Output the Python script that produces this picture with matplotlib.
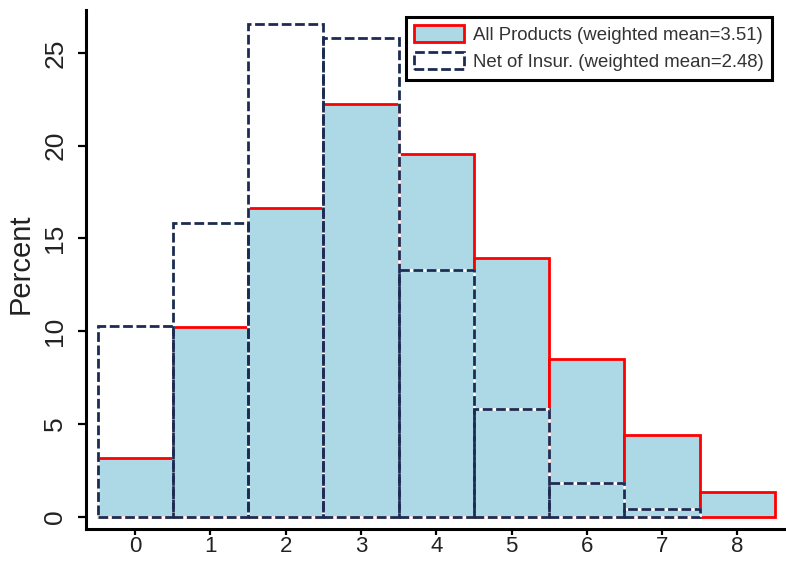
import matplotlib
matplotlib.use("Agg")
import matplotlib.pyplot as plt
from matplotlib.patches import Patch
import numpy as np

plt.rcParams['font.family'] = ['Liberation Sans', 'DejaVu Sans']

# number of products held, percent of households
bins = [0, 1, 2, 3, 4, 5, 6, 7, 8]
all_products = [3.15, 10.2, 16.65, 22.25, 19.55, 13.95, 8.5, 4.4, 1.35]
net_of_insur = [10.3, 15.85, 26.55, 25.8, 13.3, 5.8, 1.8, 0.4, 0.0]
labels = ['All Products (weighted mean=3.51)', 'Net of Insur. (weighted mean=2.48)']
yticks = [0, 5, 10, 15, 20, 25]

navy = '#1c2b52'
dash = (0, (3.5, 1.3))

fig = plt.figure(figsize=(7.86, 5.63), dpi=100)
ax = fig.add_axes([0.1094, 0.061, 0.8906, 0.9212])

ax.bar(bins, all_products, width=1.0, color='#add8e6', edgecolor='red',
       linewidth=2, zorder=2)

# only draw the bins that actually have a bar
net_bins = [b for b, v in zip(bins, net_of_insur) if v > 0]
net_vals = [v for v in net_of_insur if v > 0]
# white underlay so the gaps in the dashes read as white
ax.bar(net_bins, net_vals, width=1.0, fill=False, edgecolor='white',
       linewidth=2, zorder=3)
ax.bar(net_bins, net_vals, width=1.0, fill=False, edgecolor=navy,
       linewidth=2, linestyle=dash, zorder=4)

ax.set_xlim(-0.653, 8.646)
ax.set_ylim(-0.644, 27.31)
ax.set_xticks(bins)
ax.set_yticks(yticks)

for s in ['top', 'right']:
    ax.spines[s].set_visible(False)
for s in ['left', 'bottom']:
    ax.spines[s].set_linewidth(2.2)
    ax.spines[s].set_color('black')

ax.tick_params(axis='both', direction='out', width=1.6, color='black',
               labelcolor='#222222')
ax.tick_params(axis='x', length=4.5, pad=0.5, labelsize=16)
ax.tick_params(axis='y', length=5.5, labelsize=19, labelrotation=90, pad=8)
for t in ax.get_yticklabels():
    t.set_va('center')

ax.set_ylabel('Percent', fontsize=21, color='#222222')
ax.yaxis.set_label_coords(-0.073, 0.51)

handles = [
    Patch(facecolor='#add8e6', edgecolor='red', linewidth=2),
    Patch(facecolor='white', edgecolor=navy, linewidth=2, linestyle=dash),
]
leg = ax.legend(handles, labels, loc='upper left',
                bbox_to_anchor=(406 / 786, 1 - 17 / 563),
                bbox_transform=fig.transFigure, borderaxespad=0,
                fontsize=13.4, handlelength=2.65, handleheight=1.0,
                handletextpad=0.5, labelspacing=0.45, borderpad=0.45,
                fancybox=False, framealpha=1, edgecolor='black')
leg.get_frame().set_linewidth(2.2)
for t in leg.get_texts():
    t.set_color('#333333')

fig.savefig('out.png', dpi=100)
